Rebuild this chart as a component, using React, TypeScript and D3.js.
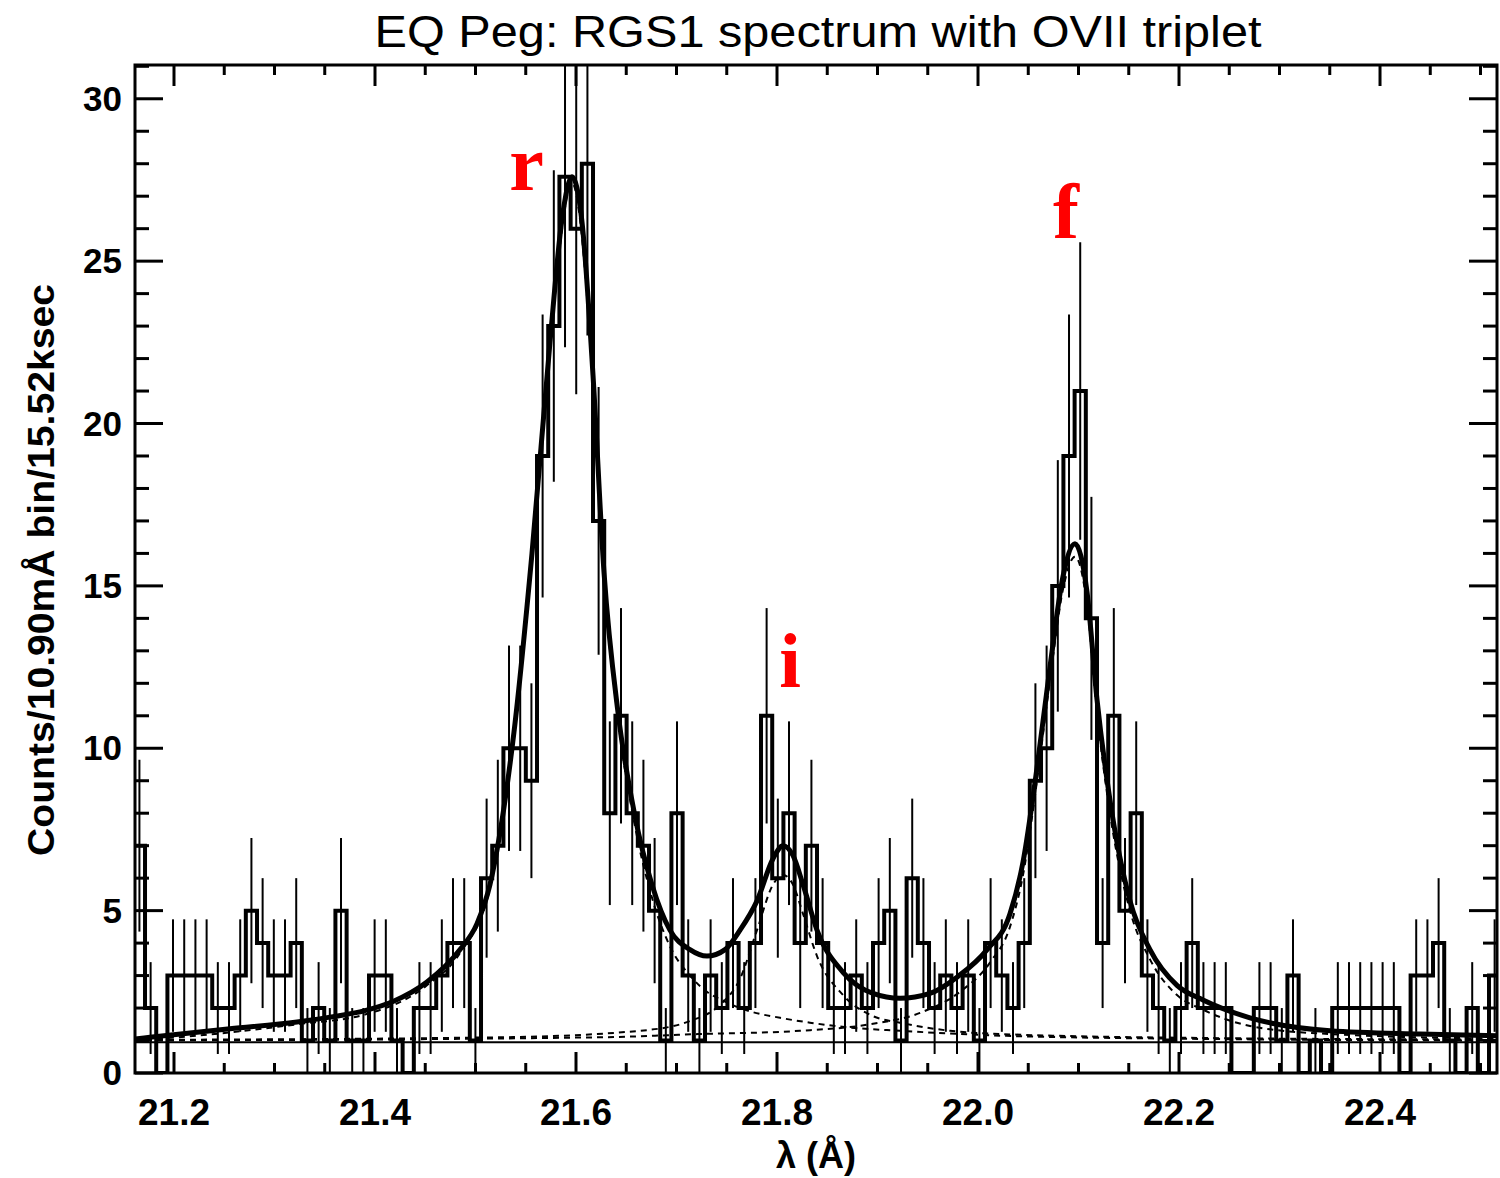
import React from "react";
import * as d3 from "d3";

const W = 1500;
const H = 1178;
const plot = { left: 135, right: 1497, top: 65, bottom: 1073 };

const xDomain = [21.1612, 22.5164];
const yDomain = [0, 31.04];

// histogram bins (centre of first bin, bin width in Angstrom)
const firstBinCenter = 21.1656;
const binWidth = 0.011144;
const counts = [
  7, 2, 0, 3, 3, 3, 3, 2, 2, 3, 5, 4, 3, 3, 4, 1, 2, 1, 5, 1,
  1, 3, 3, 1, 0, 2, 2, 3, 4, 4, 1, 6, 7, 10, 10, 9, 19, 23, 27.6, 26,
  28, 17, 8, 11, 8, 7, 5, 1, 8, 3, 1, 3, 2, 4, 2, 4, 11, 6, 8, 4,
  7, 4, 2, 2, 3, 2, 4, 5, 1, 6, 4, 2, 3, 2, 3, 1, 4, 3, 2, 4,
  9, 10, 15, 19, 21, 14, 4, 11, 5, 8, 3, 2, 1, 2, 4, 2, 2, 2, 0, 0,
  2, 2, 1, 3, 0, 1, 0, 2, 2, 2, 2, 2, 2, 0, 3, 3, 4, 1, 0, 2,
  0, 3,
];

// fitted model (total)
const modelLambda = [
  21.1612, 21.1761, 21.2557, 21.3224, 21.3552, 21.39, 21.4179, 21.4517, 21.4846, 21.5015,
  21.5144, 21.5244, 21.5383, 21.5562, 21.5741, 21.5861, 21.596, 21.606, 21.6169, 21.6279,
  21.6418, 21.6587, 21.6756, 21.6935, 21.7134, 21.7303, 21.7483, 21.7632, 21.7801, 21.796,
  21.806, 21.8159, 21.8259, 21.8398, 21.8657, 21.8955, 21.9224, 21.9522, 21.9791, 22.009,
  22.0318, 22.0448, 22.0587, 22.0716, 22.0846, 22.0965, 22.1085, 22.1184, 22.1313, 22.1512,
  22.1711, 22.198, 22.2239, 22.2706, 22.3502, 22.4398, 22.5164,
];
const modelTotal = [
  1.05, 1.1, 1.36, 1.57, 1.72, 1.92, 2.2, 2.8, 3.8, 4.6,
  5.8, 7.4, 10.5, 16.0, 22.5, 26.3, 27.6, 26.2, 21.5, 15.4,
  11.1, 7.9, 5.8, 4.4, 3.8, 3.6, 3.8, 4.4, 5.3, 6.6,
  7.0, 6.7, 5.8, 4.4, 3.1, 2.45, 2.3, 2.45, 2.95, 3.8,
  4.9, 6.5, 9.4, 12.5, 15.3, 16.3, 14.8, 11.5, 8.4, 5.3,
  3.8, 2.7, 2.25, 1.7, 1.3, 1.2, 1.15,
];

// individual line components (dashed)
const rLambda = [
  21.1612, 21.2557, 21.3224, 21.39, 21.4517, 21.4846, 21.5144, 21.5383, 21.5562, 21.5741,
  21.596, 21.6169, 21.6279, 21.6418, 21.6587, 21.6756, 21.6935, 21.7134, 21.7303, 21.7483,
  21.7731, 21.803, 21.8328, 21.8726, 21.9224, 22.0219, 22.2209, 22.5164,
];
const rValue = [
  1.0, 1.25, 1.5, 1.8, 2.7, 3.7, 5.7, 10.4, 15.9, 22.4,
  27.4, 21.3, 15.2, 10.9, 7.6, 5.4, 3.9, 3.0, 2.5, 2.2,
  1.9, 1.7, 1.55, 1.4, 1.3, 1.15, 1.05, 1.0,
];
const iLambda = [
  21.1612, 21.5244, 21.6637, 21.7134, 21.7433, 21.7632, 21.7801, 21.796, 21.806, 21.8159,
  21.8259, 21.8398, 21.8657, 21.8955, 21.9224, 21.9721, 22.0219, 22.2209, 22.5164,
];
const iValue = [
  1.02, 1.1, 1.3, 1.6, 2.1, 2.9, 4.4, 5.8, 6.1, 5.8,
  4.9, 3.6, 2.4, 1.75, 1.55, 1.3, 1.2, 1.08, 1.03,
];
const fLambda = [
  21.1612, 21.6239, 21.7234, 21.8229, 21.8925, 21.9423, 21.9821, 22.0119, 22.0318, 22.0448,
  22.0587, 22.0716, 22.0846, 22.0965, 22.1085, 22.1184, 22.1313, 22.1512, 22.1711, 22.198,
  22.2239, 22.2706, 22.3502, 22.5164,
];
const fValue = [
  1.0, 1.1, 1.2, 1.3, 1.5, 1.85, 2.5, 3.4, 4.5, 6.1,
  9.0, 12.1, 14.9, 15.9, 14.4, 11.1, 8.0, 5.0, 3.5, 2.4,
  1.95, 1.45, 1.2, 1.06,
];
const continuumLevel = 0.95;

const xTickValues = [21.2, 21.4, 21.6, 21.8, 22.0, 22.2, 22.4];
const xTickLabels = ["21.2", "21.4", "21.6", "21.8", "22.0", "22.2", "22.4"];
const yTickValues = [0, 5, 10, 15, 20, 25, 30];
const yTickLabels = ["0", "5", "10", "15", "20", "25", "30"];

const lineLabels = [
  { text: "r", lambda: 21.5509, value: 27.2 },
  { text: "i", lambda: 21.8129, value: 11.9 },
  { text: "f", lambda: 22.0876, value: 25.7 },
];

const titleText = "EQ Peg: RGS1 spectrum with OVII triplet";
const yTitle = "Counts/10.90mÅ bin/15.52ksec";
const xTitle = "λ (Å)";

export default function App() {
  const x = d3.scaleLinear().domain(xDomain).range([plot.left, plot.right]);
  const y = d3.scaleLinear().domain(yDomain).range([plot.bottom, plot.top]);

  const bins = counts.map((v, i) => ({ c: firstBinCenter + i * binWidth, v }));
  const stepPts: [number, number][] = bins.map((b) => [x(b.c - binWidth / 2), y(b.v)]);
  const last = bins[bins.length - 1];
  stepPts.push([x(last.c + binWidth / 2), y(last.v)]);
  const histPath = d3.line().curve(d3.curveStepAfter)(stepPts) || "";

  const smooth = (ls: number[], vs: number[]) =>
    d3
      .line<number>()
      .x((_, i) => x(ls[i]))
      .y((v) => y(v))
      .curve(d3.curveMonotoneX)(vs) || "";

  const majorX = xTickValues;
  const minorX = d3.range(21.2, 22.52, 0.05).filter(
    (t) => !majorX.some((m) => Math.abs(m - t) < 1e-6)
  );
  const minorY = d3.range(0, 32, 1).filter((t) => t % 5 !== 0 && t <= yDomain[1]);

  const font = "'Liberation Sans', Arial, sans-serif";

  return (
    <svg
      width={W}
      height={H}
      style={{ position: "absolute", left: 0, top: 0, background: "#fff" }}
      xmlns="http://www.w3.org/2000/svg"
    >
      <defs>
        <clipPath id="plotClip">
          <rect x={plot.left} y={plot.top} width={plot.right - plot.left} height={plot.bottom - plot.top} />
        </clipPath>
      </defs>
      <rect x={0} y={0} width={W} height={H} fill="#fff" />

      <g clipPath="url(#plotClip)">
        {/* continuum */}
        <line
          x1={plot.left}
          x2={plot.right}
          y1={y(continuumLevel)}
          y2={y(continuumLevel)}
          stroke="#000"
          strokeWidth={2}
        />
        {/* components */}
        <path d={smooth(rLambda, rValue)} fill="none" stroke="#000" strokeWidth={2} strokeDasharray="6,5" />
        <path d={smooth(iLambda, iValue)} fill="none" stroke="#000" strokeWidth={2} strokeDasharray="6,5" />
        <path d={smooth(fLambda, fValue)} fill="none" stroke="#000" strokeWidth={2} strokeDasharray="6,5" />
        {/* error bars */}
        {bins
          .filter((b) => b.v > 0)
          .map((b, i) => (
            <line
              key={i}
              x1={x(b.c)}
              x2={x(b.c)}
              y1={y(b.v - Math.sqrt(b.v))}
              y2={y(b.v + Math.sqrt(b.v))}
              stroke="#000"
              strokeWidth={2}
            />
          ))}
        {/* histogram */}
        <path d={histPath} fill="none" stroke="#000" strokeWidth={4} strokeLinejoin="miter" />
        {/* total model */}
        <path d={smooth(modelLambda, modelTotal)} fill="none" stroke="#000" strokeWidth={5} />
      </g>

      {/* frame */}
      <rect
        x={plot.left}
        y={plot.top}
        width={plot.right - plot.left}
        height={plot.bottom - plot.top}
        fill="none"
        stroke="#000"
        strokeWidth={3}
      />

      {/* x ticks */}
      {majorX.map((t, i) => (
        <g key={"mx" + i}>
          <line x1={x(t)} x2={x(t)} y1={plot.bottom} y2={plot.bottom - 21} stroke="#000" strokeWidth={3} />
          <line x1={x(t)} x2={x(t)} y1={plot.top} y2={plot.top + 21} stroke="#000" strokeWidth={3} />
          <text
            x={x(t)}
            y={1125}
            textAnchor="middle"
            fontFamily={font}
            fontWeight="bold"
            fontSize={37}
          >
            {xTickLabels[i]}
          </text>
        </g>
      ))}
      {minorX.map((t, i) => (
        <g key={"nx" + i}>
          <line x1={x(t)} x2={x(t)} y1={plot.bottom} y2={plot.bottom - 10} stroke="#000" strokeWidth={3} />
          <line x1={x(t)} x2={x(t)} y1={plot.top} y2={plot.top + 10} stroke="#000" strokeWidth={3} />
        </g>
      ))}

      {/* y ticks */}
      {yTickValues.map((t, i) => (
        <g key={"my" + i}>
          <line x1={plot.left} x2={plot.left + 28} y1={y(t)} y2={y(t)} stroke="#000" strokeWidth={3} />
          <line x1={plot.right} x2={plot.right - 28} y1={y(t)} y2={y(t)} stroke="#000" strokeWidth={3} />
          <text
            x={122}
            y={y(t) + 12}
            textAnchor="end"
            fontFamily={font}
            fontWeight="bold"
            fontSize={35}
          >
            {yTickLabels[i]}
          </text>
        </g>
      ))}
      {minorY.map((t, i) => (
        <g key={"ny" + i}>
          <line x1={plot.left} x2={plot.left + 14} y1={y(t)} y2={y(t)} stroke="#000" strokeWidth={3} />
          <line x1={plot.right} x2={plot.right - 14} y1={y(t)} y2={y(t)} stroke="#000" strokeWidth={3} />
        </g>
      ))}

      {/* red line labels */}
      {lineLabels.map((l, i) => (
        <text
          key={"ll" + i}
          x={x(l.lambda)}
          y={y(l.value)}
          textAnchor="middle"
          fontFamily="'Liberation Serif', 'Times New Roman', serif"
          fontWeight="bold"
          fontSize={78}
          fill="#ff0000"
        >
          {l.text}
        </text>
      ))}

      {/* titles */}
      <text
        x={818}
        y={47}
        textAnchor="middle"
        fontFamily={font}
        fontSize={44}
        textLength={887}
        lengthAdjust="spacingAndGlyphs"
      >
        {titleText}
      </text>
      <text
        transform={`translate(54,570) rotate(-90)`}
        textAnchor="middle"
        fontFamily={font}
        fontWeight="bold"
        fontSize={36}
        textLength={572}
        lengthAdjust="spacingAndGlyphs"
      >
        {yTitle}
      </text>
      <text x={816} y={1168} textAnchor="middle" fontFamily={font} fontWeight="bold" fontSize={36}>
        {xTitle}
      </text>
    </svg>
  );
}
